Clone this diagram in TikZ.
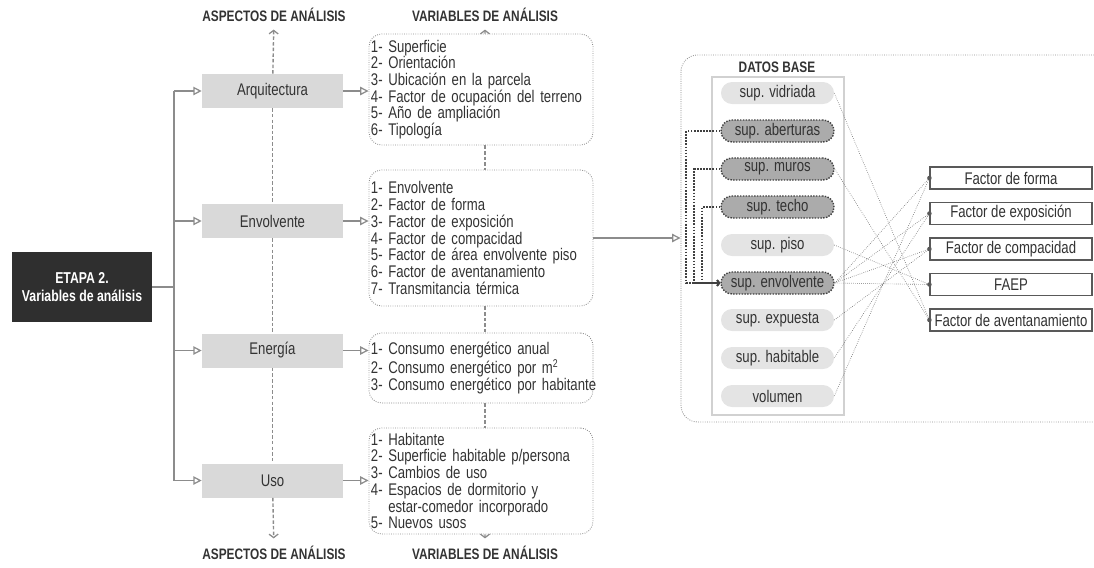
\documentclass[tikz,border=0pt]{standalone}
\usepackage{fontspec}
\setmainfont{Liberation Sans}[FakeStretch=0.78]
\usetikzlibrary{arrows.meta,positioning}

\definecolor{txtgray}{HTML}{333333}
\definecolor{boxgray}{HTML}{D9D9D9}
\definecolor{linegray}{HTML}{8C8C8C}
\definecolor{darkbox}{HTML}{2F2F2F}
\definecolor{pillgray}{HTML}{E4E4E4}
\definecolor{pilldark}{HTML}{ABABAB}

\tikzset{
	title/.style={font=\bfseries\fontsize{10.8}{11}\selectfont},
	etapa/.style={fill=darkbox, text=white, align=center, minimum width=3.5cm, minimum height=1.75cm, font=\bfseries\fontsize{11.2}{13}\selectfont},
	aspect/.style={fill=boxgray, minimum width=3.525cm, minimum height=0.85cm},
	varbox/.style={draw=linegray, densely dotted, line width=0.6pt, rounded corners=9pt, text width=5.5cm, inner xsep=0.05cm, align=left},
	pill/.style={fill=pillgray, rounded corners=0.275cm, minimum width=2.825cm, minimum height=0.55cm, inner sep=0pt},
	pilldark/.style={pill, fill=pilldark, draw=black!75, densely dotted, line width=1pt},
	factor/.style={draw=black!65, line width=0.8pt, fill=white, minimum width=4.05cm, minimum height=0.55cm, inner sep=0pt},
	ln/.style={draw=linegray, line width=1.1pt},
	arr/.style={ln, -{Triangle[open, length=6pt, width=6pt, line width=0.9pt]}},
	dashln/.style={draw=linegray, line width=1pt, dash pattern=on 2.5pt off 1.5pt},
	dasharr/.style={dashln, -{Straight Barb[length=2.5pt, width=6.5pt, line width=0.9pt]}, shorten >=2pt},
	link/.style={draw=black!75, densely dotted, line width=1.2pt, -{Straight Barb[length=1.5pt, width=4pt]}},
	conn/.style={draw=black!55, densely dotted, line width=0.45pt}
}

\begin{document}
\begin{tikzpicture}[x=0.025cm, y=-0.025cm, every node/.append style={text=txtgray}, font=\fontsize{12}{11.9}\selectfont]
	\useasboundingbox (0,0) rectangle (1094,567);

	% etapa y aspectos
	\node[etapa] (etapa) at (82,287) {ETAPA 2.\\Variables de análisis};
	\coordinate (trunk) at (174,287);
	\foreach \n/\y/\t in {arq/91/Arquitectura, env/221/Envolvente, ene/350.5/Energía, uso/480.5/Uso}
		\node[aspect] (\n) at (272.5,\y) {\t};
	\node[title] (aspTop) at (274,15) {ASPECTOS DE ANÁLISIS};
	\node[title] (aspBot) at (274,553) {ASPECTOS DE ANÁLISIS};

	\draw[ln] (etapa.east) -- (trunk);
	\draw[ln] (trunk |- arq) -- (trunk |- uso);
	\foreach \n in {arq,env,ene,uso}
		\draw[arr] (trunk |- \n) -- (\n.west);
	\draw[dasharr] (arq) -- (aspTop);
	\draw[dashln] (arq) -- (env) (env) -- (ene) (ene) -- (uso);
	\draw[dasharr] (uso) -- (aspBot);

	% variables
	\node[varbox, minimum height=2.775cm] (vArq) at (481,89.5) {1- Superficie\\2- Orientación\\3- Ubicación en la parcela\\4- Factor de ocupación del terreno\\5- Año de ampliación\\6- Tipología};
	\node[varbox, minimum height=3.4cm] (vEnv) at (481,238) {1- Envolvente\\2- Factor de forma\\3- Factor de exposición\\4- Factor de compacidad\\5- Factor de área envolvente piso\\6- Factor de aventanamiento\\7- Transmitancia térmica};
	\node[varbox, minimum height=1.75cm] (vEne) at (481,368) {1- Consumo energético anual\\2- Consumo energético por m\textsuperscript{2}\\\mbox{3- Consumo energético por habitante}};
	\node[varbox, minimum height=2.65cm] (vUso) at (481,481) {1- Habitante\\2- Superficie habitable p/persona\\3- Cambios de uso\\4- Espacios de dormitorio y\\\phantom{4- }estar-comedor incorporado\\5- Nuevos usos};
	\node[title] (varTop) at (485,15) {VARIABLES DE ANÁLISIS};
	\node[title] (varBot) at (485,553) {VARIABLES DE ANÁLISIS};

	\foreach \a/\b in {arq/vArq, env/vEnv, ene/vEne, uso/vUso}
		\draw[arr] (\a.east) -- (\a.east -| \b.west);
	\draw[dasharr] ([xshift=0.1cm]vArq.north) -- (varTop);
	\foreach \a/\b in {vArq/vEnv, vEnv/vEne, vEne/vUso}
		\draw[dashln] ([xshift=0.1cm]\a.south) -- ([xshift=0.1cm]\b.north);
	\draw[dasharr] ([xshift=0.1cm]vUso.south) -- (varBot);

	% datos base
	\node[draw=linegray, densely dotted, line width=0.6pt, rounded corners=12pt, minimum width=10.75cm, minimum height=9.175cm] (calc) at (896,238.5) {};
	\draw[arr] (vEnv.east) -- (vEnv.east -| calc.west);
	\node[title] (base) at (777,67) {DATOS BASE};
	\node[draw=black!18, line width=1pt, minimum width=3.3cm, minimum height=8.45cm] (list) at (778,246) {};
	\foreach \n/\y/\t/\s in {vid/93/sup. vidriada/pill, abe/131/sup. aberturas/pilldark, mur/169/sup. muros/pilldark, tec/207/sup. techo/pilldark, pis/245/sup. piso/pill, envo/283/sup. envolvente/pilldark, exp/320/sup. expuesta/pill, hab/358/sup. habitable/pill, vol/396/volumen/pill}
		\node[\s] (\n) at (777.5,\y) {\t};
	\draw[link] (abe.west) -- ++(-34,0) |- (envo.west);
	\draw[link] (mur.west) -- ++(-26,0) |- (envo.west);
	\draw[link] (tec.west) -- ++(-18,0) |- (envo.west);

	% factores
	\foreach \n/\y/\t in {ffor/178/Factor de forma, fexp/213.5/Factor de exposición, fcom/249/Factor de compacidad, faep/284.5/FAEP, fave/320/Factor de aventanamiento}
		\node[factor] (\n) at (1011,\y) {\t};
	\foreach \a/\b in {vid/fave, mur/fave, pis/faep, envo/ffor, envo/fexp, envo/fcom, envo/faep, exp/fcom, hab/fexp, vol/ffor}
		\draw[conn] (\a.east) -- (\b.west);
	\foreach \n in {ffor,fexp,fcom,faep,fave}
		\fill[black!65] (\n.west) circle (1.6pt);
\end{tikzpicture}
\end{document}
